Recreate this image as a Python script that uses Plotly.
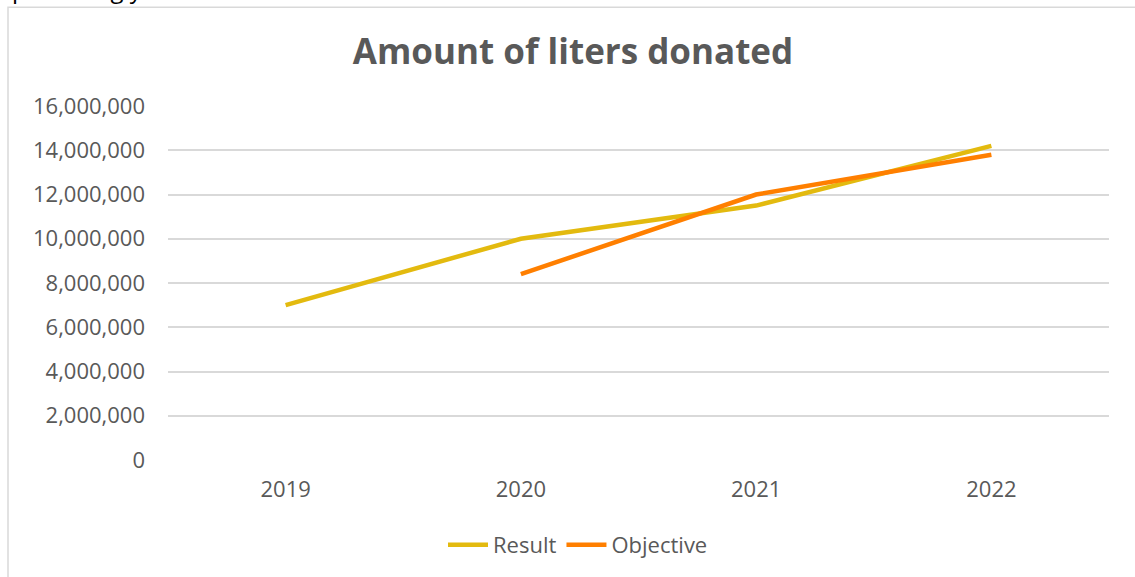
import plotly.graph_objects as go

years = ["2019", "2020", "2021", "2022"]
result = [7000000, 10000000, 11500000, 14200000]
objective_years = ["2020", "2021", "2022"]
objective = [8400000, 12000000, 13800000]
y_ticks = [0, 2000000, 4000000, 6000000, 8000000, 10000000, 12000000, 14000000, 16000000]

W, H = 1135, 577
L, R, T, B = 168, 26, 106, 116
pw, ph = W - L - R, H - T - B

def px_x(p):
    return (p - L) / pw

def px_y(p):
    return (H - B - p) / ph

FONT = "Open Sans"
GREY = "#595959"

fig = go.Figure()
fig.add_trace(go.Scatter(x=years, y=result, mode="lines", name="Result",
                         line=dict(color="#E3BA0F", width=4.5)))
fig.add_trace(go.Scatter(x=objective_years, y=objective, mode="lines", name="Objective",
                         line=dict(color="#FF7F00", width=4.5)))

fig.update_layout(
    width=W, height=H,
    margin=dict(l=L, r=R, t=T, b=B),
    paper_bgcolor="white", plot_bgcolor="white",
    font=dict(family=FONT, color=GREY, size=22),
    title=dict(text="<b>Amount of liters donated</b>", x=(351 + 795) / 2 / W, xanchor="center",
               y=1 - 52 / H, yanchor="middle",
               font=dict(family=FONT, size=35, color=GREY)),
    showlegend=True,
    legend=dict(orientation="h", x=px_x(578), xanchor="center", y=px_y(545), yanchor="middle",
                font=dict(family=FONT, size=22, color=GREY), itemwidth=40),
    xaxis=dict(type="category", categoryorder="array", categoryarray=years,
               range=[-0.5, 3.5], showgrid=False, showline=False, zeroline=False,
               ticks="", tickfont=dict(size=22, color=GREY), ticklabelstandoff=14),
    yaxis=dict(range=[0, 16000000], tickvals=y_ticks,
               ticktext=[f"{v:,}" for v in y_ticks],
               showgrid=True, gridcolor="#D9D9D9", gridwidth=1.5,
               zeroline=False, showline=False, ticks="",
               tickfont=dict(size=22, color=GREY), ticklabelstandoff=22),
)

# chart border (partially visible frame)
fig.add_shape(type="rect", xref="paper", yref="paper",
              x0=px_x(8), x1=px_x(1140), y0=px_y(580), y1=px_y(7),
              line=dict(color="#D9D9D9", width=1.5), fillcolor="rgba(0,0,0,0)", layer="below")

# cropped text from surrounding document
fig.add_annotation(text="preceding year.", xref="paper", yref="paper",
                   x=px_x(10), xanchor="left", y=px_y(7), yanchor="bottom",
                   showarrow=False, font=dict(family=FONT, size=24, color="#000000"))

fig.write_html("out.html", config={"displayModeBar": False},
               post_script="document.body.style.margin='0';document.body.style.padding='0';")
